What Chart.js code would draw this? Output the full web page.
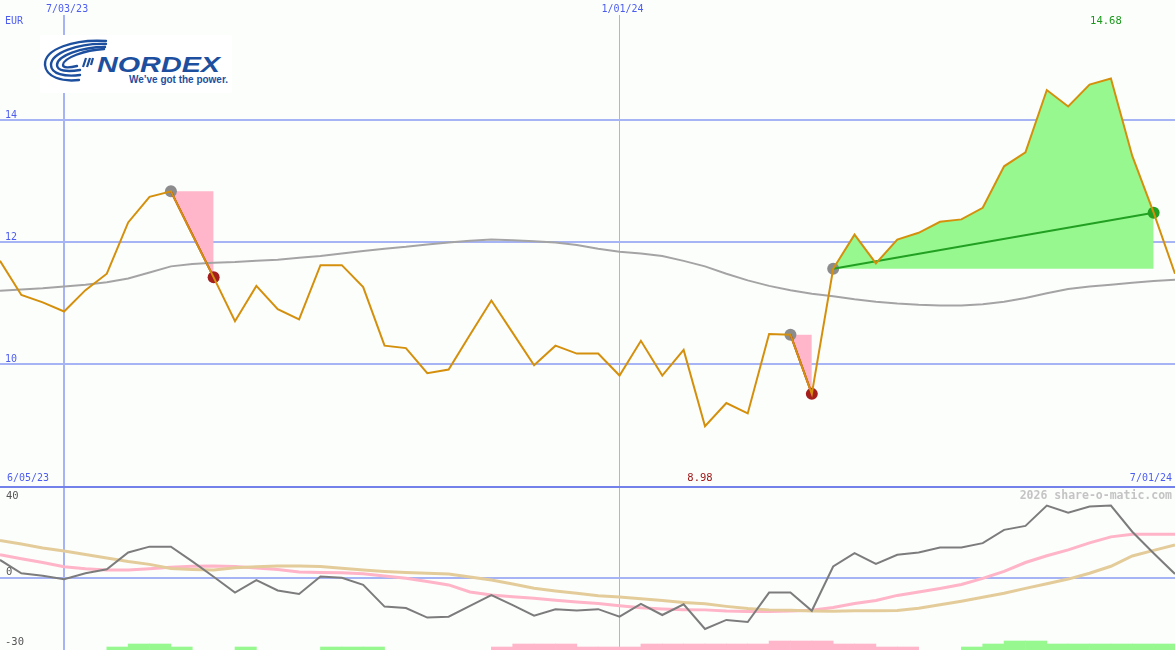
<!DOCTYPE html>
<html>
<head>
<meta charset="utf-8">
<script src="https://cdn.jsdelivr.net/npm/chart.js"></script>
<style>
    body { margin: 0; background: #fcfefc; }
    #wrap { position: relative; width: 1175px; height: 650px; overflow: hidden; }
    canvas { position: absolute; left: 0; }
    #logo { position: absolute; left: 40px; top: 35px; width: 192px; height: 58px; background: #fff; }
</style>
</head>
<body>
<div id="wrap">
    <canvas id="price" width="1175" height="486" style="top:0"></canvas>
    <canvas id="osc" width="1175" height="164" style="top:486px"></canvas>
    <div id="logo">
        <svg width="192" height="58" viewBox="0 0 192 58">
            <g fill="none" stroke="#1d4f9f" stroke-width="2.4" stroke-linecap="round">
                <path d="M66 6 C34 4 4 14 5 30 C6 42 22 47 39 45"/>
                <path d="M66 9 C38 8 11 18 11 30 C11 39 25 42 40 40"/>
                <path d="M65 12 C41 12 17 21 17 30 C17 36 27 37 40 35"/>
                <path d="M64 14 C45 15 23 23 23 30 C23 33 29 33 37 31"/>
            </g>
            <g stroke="#1d4f9f" stroke-width="2.2">
                <line x1="43" y1="32" x2="46" y2="23"/>
                <line x1="47" y1="32" x2="50" y2="23"/>
                <line x1="51" y1="30" x2="53" y2="23"/>
            </g>
            <text x="57" y="37" font-family="Liberation Sans, Arial, sans-serif" font-weight="bold" font-style="italic" font-size="22" fill="#1d4f9f" textLength="123" lengthAdjust="spacingAndGlyphs">NORDEX</text>
            <text x="89" y="48" font-family="Liberation Sans, Arial, sans-serif" font-weight="bold" font-size="10.5" fill="#1d4f9f" textLength="99" lengthAdjust="spacingAndGlyphs">We’ve got the power.</text>
        </svg>
    </div>
</div>
<script>
    // weekly closes, EUR
    const price = [11.69, 11.13, 11.01, 10.86, 11.21, 11.48, 12.32, 12.74, 12.83, 12.12,
        11.42, 10.70, 11.28, 10.90, 10.73, 11.62, 11.62, 11.26, 10.30, 10.26,
        9.85, 9.91, 10.48, 11.04, 10.51, 9.98, 10.30, 10.17, 10.17, 9.81,
        10.38, 9.81, 10.23, 8.98, 9.36, 9.19, 10.49, 10.48, 9.51, 11.56,
        12.12, 11.65, 12.04, 12.15, 12.33, 12.37, 12.56, 13.24, 13.47, 14.49,
        14.22, 14.58, 14.68, 13.41, 12.48, 11.48];
    const priceAvg = [11.20, 11.22, 11.24, 11.27, 11.30, 11.34, 11.40, 11.50, 11.60, 11.64,
        11.66, 11.67, 11.69, 11.71, 11.74, 11.77, 11.81, 11.85, 11.89, 11.92,
        11.96, 11.99, 12.02, 12.04, 12.03, 12.01, 11.99, 11.95, 11.89, 11.84,
        11.81, 11.77, 11.69, 11.60, 11.48, 11.37, 11.28, 11.21, 11.15, 11.11,
        11.06, 11.02, 10.99, 10.97, 10.96, 10.96, 10.98, 11.02, 11.08, 11.16,
        11.23, 11.27, 11.30, 11.33, 11.36, 11.38];
    const oscMain = [7.7, 2.0, 0.9, -0.6, 2.0, 3.7, 10.9, 13.4, 13.4, 7.1,
        0.5, -6.3, -0.9, -5.4, -6.9, 0.6, 0.1, -3.0, -12.3, -12.9,
        -17.0, -16.6, -12.0, -7.4, -11.7, -16.2, -13.4, -14.0, -13.4, -16.6,
        -11.1, -15.9, -11.3, -21.9, -18.0, -18.9, -6.3, -6.3, -14.1, 4.9,
        10.6, 6.0, 9.9, 10.9, 13.0, 13.0, 14.9, 20.6, 22.3, 31.0,
        28.0, 30.6, 31.0, 19.8, 10.6, 1.7];
    const oscPink = [9.9, 8.2, 6.6, 4.8, 3.9, 3.4, 3.4, 3.9, 4.6, 5.0,
        5.1, 4.9, 4.3, 3.6, 2.5, 2.3, 2.2, 1.8, 0.8, -0.1,
        -1.5, -3.0, -6.0, -7.3, -8.1, -8.7, -9.6, -10.3, -11.0, -11.9,
        -12.8, -13.3, -13.6, -13.7, -14.2, -14.4, -14.4, -14.2, -13.9, -12.7,
        -11.0, -9.7, -7.5, -6.0, -4.5, -2.8, -0.2, 2.8, 6.6, 9.5,
        12.0, 15.0, 17.6, 18.7, 18.7, 18.7];
    const oscTan = [16.0, 14.5, 12.8, 11.5, 10.0, 8.5, 7.0, 5.8, 4.0, 3.6,
        3.4, 4.4, 4.8, 5.1, 5.1, 4.9, 4.1, 3.4, 2.8, 2.3,
        2.0, 1.7, 0.4, -0.9, -2.6, -4.4, -5.6, -6.6, -7.6, -8.2,
        -8.9, -9.7, -10.5, -11.1, -12.2, -13.1, -13.7, -13.9, -14.2, -14.3,
        -14.1, -14.1, -14.0, -13.0, -11.5, -10.0, -8.3, -6.6, -4.5, -2.5,
        -0.5, 2.0, 5.0, 9.4, 11.8, 14.1];
    // one value per week interval: + green, - pink
    const hist = [0, 0, 0, 0, 0, 1, 2, 2, 1, 0, 0, 1, 0, 0, 0, 1, 1, 1, 0, 0,
        0, 0, 0, -1, -2, -2, -2, -1, -1, -1, -2, -2, -2, -2, -2, -2, -3, -3, -3, -2,
        -2, -1, -1, 0, 0, 1, 2, 3, 3, 2, 2, 2, 2, 2, 2];
    const tradeFrom = [8, 37, 39];
    const tradeTo = [10, 38, 54];
    const tradeWin = [false, false, true];
    const priceTicks = [10, 12, 14];
    const dateTickIdx = [3, 29];
    const dateTickLabels = ['7/03/23', '1/01/24'];
    const rangeLabels = ['6/05/23', '7/01/24'];

    const BLUE = '#4d5df0';
    const GRID = '#a6b3f5';
    const MONO = "'DejaVu Sans Mono', monospace";
    Chart.defaults.font.family = MONO;
    Chart.defaults.font.size = 10;

    function pts(arr) {
        return arr.map((v, i) => ({x: i, y: v}));
    }

    // no label padding round the plot area
    function noPad(s) {
        s.paddingLeft = 0;
        s.paddingRight = 0;
        s.paddingTop = 0;
        s.paddingBottom = 0;
    }

    const topSets = [
        {data: pts(price), borderColor: '#d4900c', borderWidth: 2, pointRadius: 0, order: 0}
    ];
    tradeFrom.forEach((f, k) => {
        const t = tradeTo[k];
        const seg = price.map((v, i) => ({x: i, y: (i >= f && i <= t) ? v : null}));
        topSets.push({data: seg, borderWidth: 0, borderColor: 'rgba(0,0,0,0)', pointRadius: 0,
            fill: {value: price[f]}, backgroundColor: tradeWin[k] ? '#98f890' : '#ffb6cb', order: 5});
        topSets.push({data: [{x: f, y: price[f]}, {x: t, y: price[t]}],
            borderColor: tradeWin[k] ? '#22a022' : '#a01c1c', borderWidth: 2, pointRadius: 0, order: 1});
    });
    topSets.push({data: tradeFrom.map(i => ({x: i, y: price[i]})), showLine: false, pointRadius: 6,
        pointBackgroundColor: '#8c8c8c', pointBorderWidth: 0, order: 2});
    topSets.push({data: tradeTo.map(i => ({x: i, y: price[i]})), showLine: false, pointRadius: 6,
        pointBackgroundColor: tradeWin.map(w => w ? '#22a022' : '#a51e1e'), pointBorderWidth: 0, order: 2});
    topSets.push({data: pts(priceAvg), borderColor: '#a4a4a4', borderWidth: 2, pointRadius: 0, order: 3});

    const priceLabels = {
        id: 'priceLabels',
        afterDraw(chart) {
            const ctx = chart.ctx, x = chart.scales.x;
            ctx.save();
            ctx.font = '10px ' + MONO;
            ctx.textBaseline = 'middle';
            ctx.fillStyle = BLUE;
            ctx.textAlign = 'left';
            ctx.fillText('EUR', 5, 21);
            ctx.fillText(rangeLabels[0], 7, 478);
            ctx.textAlign = 'right';
            ctx.fillText(rangeLabels[1], 1172, 478);
            const hi = price.indexOf(Math.max(...price));
            const lo = price.indexOf(Math.min(...price));
            ctx.font = '10.5px ' + MONO;
            ctx.textAlign = 'center';
            ctx.fillStyle = '#1a9a1a';
            ctx.fillText(price[hi].toFixed(2), x.getPixelForValue(hi) - 5, 21);
            ctx.fillStyle = '#a01818';
            ctx.fillText(price[lo].toFixed(2), x.getPixelForValue(lo) - 5, 478);
            ctx.restore();
        }
    };

    const xGrid = {color: GRID, lineWidth: c => c.index === 0 ? 2 : 1, drawTicks: false, offset: false};

    new Chart(document.getElementById('price'), {
        type: 'line',
        data: {datasets: topSets},
        options: {
            responsive: false, animation: false, devicePixelRatio: 1,
            layout: {padding: 0, autoPadding: false},
            plugins: {legend: {display: false}, tooltip: {enabled: false}},
            elements: {line: {tension: 0}},
            scales: {
                x: {
                    type: 'linear', position: 'top', min: 0, max: 55, offset: false,
                    afterBuildTicks: s => { s.ticks = dateTickIdx.map(v => ({value: v})); },
                    afterFit: s => { s.height = 15; noPad(s); },
                    ticks: {callback: v => dateTickLabels[dateTickIdx.indexOf(v)], color: BLUE,
                        padding: 0, labelOffset: 3, maxRotation: 0, autoSkip: false},
                    grid: xGrid,
                    border: {display: false}
                },
                y: {
                    type: 'linear', min: 8, max: 15.72,
                    afterBuildTicks: s => { s.ticks = priceTicks.map(v => ({value: v})); },
                    afterFit: s => { s.width = 0; noPad(s); },
                    ticks: {mirror: true, padding: 5, labelOffset: -5, color: BLUE},
                    grid: {color: GRID, lineWidth: 2, drawTicks: false},
                    border: {display: false}
                }
            }
        },
        plugins: [priceLabels]
    });

    function histBars(sign) {
        return hist.map((h, i) => ({x: i + 0.5, y: Math.sign(h) === sign ? Math.abs(h) : null}));
    }

    const oscLabels = {
        id: 'oscLabels',
        afterDraw(chart) {
            const ctx = chart.ctx, y = chart.scales.y;
            ctx.save();
            ctx.strokeStyle = '#7282ea';
            ctx.lineWidth = 2;
            ctx.beginPath();
            ctx.moveTo(0, 1);
            ctx.lineTo(chart.width, 1);
            ctx.stroke();
            ctx.textBaseline = 'middle';
            ctx.font = 'bold 11.5px ' + MONO;
            ctx.fillStyle = '#c4c4c4';
            ctx.textAlign = 'right';
            ctx.fillText('2026 share-o-matic.com', 1172, 10);
            ctx.font = '10.5px ' + MONO;
            ctx.fillStyle = '#555555';
            ctx.textAlign = 'left';
            ctx.fillText('40', 6, 10);
            ctx.fillText('0', 6, y.getPixelForValue(0) - 6);
            ctx.fillText('-30', 5, 156);
            ctx.restore();
        }
    };

    new Chart(document.getElementById('osc'), {
        type: 'line',
        data: {datasets: [
            {data: pts(oscMain), borderColor: '#7c7c7c', borderWidth: 2, pointRadius: 0, order: 0},
            {data: pts(oscTan), borderColor: '#e4cc9a', borderWidth: 3, pointRadius: 0, order: 1},
            {data: pts(oscPink), borderColor: '#ffb4c8', borderWidth: 3, pointRadius: 0, order: 2},
            {type: 'bar', data: histBars(1), yAxisID: 'yh', backgroundColor: '#98f890', borderWidth: 0,
                grouped: false, barPercentage: 1, categoryPercentage: 1, order: 3},
            {type: 'bar', data: histBars(-1), yAxisID: 'yh', backgroundColor: '#ffb6cb', borderWidth: 0,
                grouped: false, barPercentage: 1, categoryPercentage: 1, order: 3}
        ]},
        options: {
            responsive: false, animation: false, devicePixelRatio: 1,
            layout: {padding: 0, autoPadding: false},
            plugins: {legend: {display: false}, tooltip: {enabled: false}},
            elements: {line: {tension: 0}},
            scales: {
                x: {
                    type: 'linear', position: 'bottom', min: 0, max: 55, offset: false,
                    afterBuildTicks: s => { s.ticks = dateTickIdx.map(v => ({value: v})); },
                    afterFit: s => { s.height = 0; noPad(s); },
                    ticks: {display: false},
                    grid: xGrid,
                    border: {display: false}
                },
                y: {
                    type: 'linear', min: -30.9, max: 39.4,
                    afterBuildTicks: s => { s.ticks = [{value: 0}]; },
                    afterFit: s => { s.width = 0; noPad(s); },
                    ticks: {display: false},
                    grid: {color: GRID, lineWidth: 2, drawTicks: false},
                    border: {display: false}
                },
                yh: {type: 'linear', display: false, min: 0, max: 54.67}
            }
        },
        plugins: [oscLabels]
    });
</script>
</body>
</html>
